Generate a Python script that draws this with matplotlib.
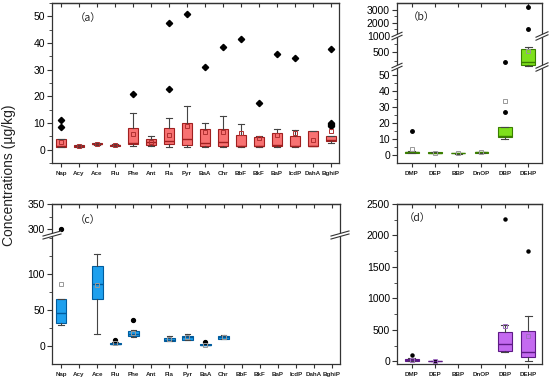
import numpy as np
import matplotlib
matplotlib.use('Agg')
import matplotlib.pyplot as plt
from matplotlib.lines import Line2D
from matplotlib.patches import Polygon
from matplotlib.ticker import AutoMinorLocator

plt.rcParams['font.family'] = ['Liberation Sans', 'DejaVu Sans']

# ---------------- data ----------------
pah_names = ['Nap', 'Acy', 'Ace', 'Flu', 'Phe', 'Ant', 'Fla', 'Pyr', 'BaA', 'Chr',
             'BbF', 'BkF', 'BaP', 'IcdP', 'DahA', 'BghiP']
pae_names = ['DMP', 'DEP', 'BBP', 'DnOP', 'DBP', 'DEHP']

# (a) PAHs, panel a
a_q1 = [1.0, 0.9, 2.0, 1.5, 2.2, 1.6, 2.3, 1.8, 1.3, 1.3, 1.3, 1.3, 1.3, 1.3, 1.3, 3.1]
a_med = [1.5, 1.2, 2.2, 1.7, 2.5, 3.0, 3.2, 4.0, 2.6, 2.7, 1.5, 1.5, 1.6, 1.5, 1.5, 3.8]
a_q3 = [4.0, 1.7, 2.4, 1.8, 8.1, 4.0, 8.1, 10.0, 7.6, 7.6, 5.4, 4.7, 6.2, 5.1, 7.1, 5.0]
a_lo = [1.0, 0.9, 1.9, 1.4, 1.5, 1.2, 1.0, 1.0, 1.0, 1.0, 1.0, 1.0, 1.0, 1.0, 1.3, 2.5]
a_hi = [4.0, 1.8, 2.6, 2.0, 13.6, 5.1, 11.9, 16.5, 10.1, 12.8, 9.5, 5.3, 7.8, 7.3, 7.1, 5.3]
a_mean = [3.0, 1.3, 2.2, 1.7, 5.8, 3.0, 5.6, 8.8, 6.8, 6.7, 6.3, 4.4, 5.6, 6.2, 3.5, 6.9]
a_fliers = [[8.6, 11.0], [], [], [], [20.9], [], [22.7, 47.5], [50.9], [30.9], [38.5],
            [41.6], [17.4], [36.0], [34.4], [], [8.8, 9.2, 9.6, 10.0, 37.9]]

# (b) PAEs, panel b
b_q1 = [1.2, 1.3, 1.0, 1.4, 11.5, 107]
b_med = [1.6, 1.5, 1.2, 1.6, 12.0, 217]
b_q3 = [2.0, 1.7, 1.4, 1.8, 17.6, 595]
b_lo = [1.0, 1.2, 0.9, 1.3, 10.3, 95]
b_hi = [2.2, 1.8, 1.5, 1.9, 17.6, 655]
b_mean = [3.6, 1.5, 1.2, 1.6, 33.9, 543]
b_fliers = [[15.0], [], [], [], [27.0, 207], [1500, 3220]]

# (c) PAHs, panel c (None = not detected)
c_q1 = [31.5, None, 66.0, 2.8, 14.0, None, 7.4, 8.5, 1.4, 9.7, None, None, None, None, None, None]
c_med = [45.4, None, 87.0, 3.5, 17.0, None, 9.0, 12.0, 2.0, 12.0, None, None, None, None, None, None]
c_q3 = [66.0, None, 111.6, 4.6, 21.3, None, 11.6, 14.0, 2.3, 14.4, None, None, None, None, None, None]
c_lo = [30.0, None, 16.7, 2.5, 13.0, None, 7.0, 8.0, 1.2, 9.5, None, None, None, None, None, None]
c_hi = [66.0, None, 128.7, 5.0, 22.0, None, 14.4, 16.2, 2.5, 15.7, None, None, None, None, None, None]
c_mean = [86.6, None, 84.7, 4.0, 18.0, None, 9.5, 12.0, 2.0, 13.0, None, None, None, None, None, None]
c_fliers = [[300.0], [], [], [8.8], [36.6], [], [], [], [6.0], [], [], [], [], [], [], []]

# (d) PAEs, panel d
d_q1 = [15, 2, None, None, 159, 69]
d_med = [25, 5, None, None, 281, 148]
d_q3 = [45, 8, None, None, 461, 477]
d_lo = [10, 0, None, None, 148, 5]
d_hi = [55, 10, None, None, 583, 725]
d_mean = [30, 6, None, None, 556, 397]
d_fliers = [[95], [10], [], [], [2256], [1758]]

# ---------------- figure ----------------
W, H = 550, 382
fig = plt.figure(figsize=(W / 100, H / 100), dpi=100)


def px_axes(x0, y0, x1, y1):
    return fig.add_axes([x0 / W, 1 - y1 / H, (x1 - x0) / W, (y1 - y0) / H])


def pw_scale(ax, data_pts, frac_pts):
    dp = np.asarray(data_pts, float)
    fp = np.asarray(frac_pts, float)
    s0 = (fp[1] - fp[0]) / (dp[1] - dp[0])
    s1 = (fp[-1] - fp[-2]) / (dp[-1] - dp[-2])
    big = 1e6
    dpe = np.concatenate([[dp[0] - big], dp, [dp[-1] + big]])
    fpe = np.concatenate([[fp[0] - big * s0], fp, [fp[-1] + big * s1]])

    def fwd(v):
        return np.interp(np.asarray(v, float), dpe, fpe)

    def inv(v):
        return np.interp(np.asarray(v, float), fpe, dpe)
    ax.set_yscale('function', functions=(fwd, inv))


def make_stats(q1, med, q3, lo, hi, mean, fliers):
    stats, pos = [], []
    for i in range(len(q1)):
        if q1[i] is None:
            continue
        stats.append(dict(q1=q1[i], med=med[i], q3=q3[i], whislo=lo[i], whishi=hi[i],
                          mean=mean[i], fliers=fliers[i], label=''))
        pos.append(i + 1)
    return stats, pos


def draw_boxes(ax, stats, pos, fc, ec, mc, fmarker, fsize, width=0.6):
    ax.bxp(stats, positions=pos, widths=width, patch_artist=True, showmeans=True,
           manage_ticks=False, capwidths=0.3,
           boxprops=dict(facecolor=fc, edgecolor=ec, linewidth=0.8),
           medianprops=dict(color=ec, linewidth=1.0),
           whiskerprops=dict(color='#444444', linewidth=0.8),
           capprops=dict(color='#444444', linewidth=0.8),
           flierprops=dict(marker=fmarker, markerfacecolor='k', markeredgecolor='k',
                           markersize=fsize, linestyle='none'),
           meanprops=dict(marker='s', markerfacecolor='none', markeredgecolor=mc,
                          markersize=3.5, markeredgewidth=0.7))


def style(ax, labels, xlim):
    n = len(labels)
    positions = list(range(1, n + 1))
    ax.set_xlim(*xlim)
    ax.set_xticks(positions)
    ax.set_xticklabels(labels, fontsize=4.5, fontweight='bold', color='#222222')
    ax.tick_params(axis='x', direction='out', length=3, width=0.8, pad=3, color='#333333')
    ax.tick_params(axis='y', which='major', direction='out', length=3.5, width=0.8,
                   labelsize=7.5, pad=1.5, color='#333333')
    ax.tick_params(axis='y', which='minor', direction='out', length=2, width=0.6, color='#333333')
    for s in ax.spines.values():
        s.set_linewidth(0.9)
        s.set_color('#333333')
    sec = ax.secondary_xaxis('top')
    sec.set_xticks(positions)
    sec.tick_params(direction='in', length=3, width=0.8, labeltop=False, color='#333333')
    sec.spines['top'].set_linewidth(0.9)
    sec.spines['top'].set_color('#333333')


def break_mark(ax, yval, side, half=6, slope=0.4, gap=3):
    x_ax = 0 if side == 'left' else 1
    xd = ax.transAxes.transform((x_ax, 0))[0]
    yd = ax.transData.transform((1, yval))[1]
    inv = fig.transFigure.inverted()
    pts = [(xd - half, yd - gap / 2 - half * slope), (xd + half, yd - gap / 2 + half * slope),
           (xd + half, yd + gap / 2 + half * slope), (xd - half, yd + gap / 2 - half * slope)]
    fig.add_artist(Polygon(inv.transform(pts), closed=True, facecolor='white',
                           edgecolor='none', transform=fig.transFigure, zorder=5))
    for off in (-gap / 2, gap / 2):
        p = inv.transform([(xd - half, yd + off - half * slope), (xd + half, yd + off + half * slope)])
        fig.add_artist(Line2D(p[:, 0], p[:, 1], color='#333333', lw=0.8,
                              transform=fig.transFigure, zorder=6))


def panel_label(ax, txt, x, y):
    ax.text(x, y, txt, transform=ax.transAxes, ha='center', va='center', fontsize=7.5,
            family=['Noto Sans CJK SC', 'DejaVu Sans'], color='#222222')


# ---- panel (a)
axa = px_axes(52, 3, 339, 163)
st, pos = make_stats(a_q1, a_med, a_q3, a_lo, a_hi, a_mean, a_fliers)
draw_boxes(axa, st, pos, '#F87272', '#A02020', '#B03030', 'D', 3.2)
axa.set_ylim(-5, 55)
axa.set_yticks([0, 10, 20, 30, 40, 50])
axa.yaxis.set_minor_locator(AutoMinorLocator(2))
style(axa, pah_names, (0.5, 16.45))
panel_label(axa, '（a）', 0.125, 0.905)

# ---- panel (b)
axb = px_axes(397, 3, 542, 163)
pw_scale(axb, [-5, 55, 1000, 3500], [0, 96, 127, 160])
st, pos = make_stats(b_q1, b_med, b_q3, b_lo, b_hi, b_mean, b_fliers)
draw_boxes(axb, st, pos, '#7EE01C', '#3A7F00', '#999999', 'o', 2.5)
axb.set_ylim(-5, 3500)
b_ticks = [0, 10, 20, 30, 40, 50, 500, 1000, 2000, 3000]
axb.set_yticks(b_ticks, labels=[str(t) for t in b_ticks])
axb.set_yticks([5, 15, 25, 35, 45, 250, 750, 1500, 2500], minor=True)
style(axb, pae_names, (0.37, 6.6))
panel_label(axb, '（b）', 0.17, 0.91)

# ---- panel (c)
axc = px_axes(52, 204, 340, 364)
pw_scale(axc, [-25, 154, 289, 350], [0, 128.5, 129.5, 160])
st, pos = make_stats(c_q1, c_med, c_q3, c_lo, c_hi, c_mean, c_fliers)
draw_boxes(axc, st, pos, '#1EA0EE', '#005C9E', '#999999', 'o', 2.8)
axc.set_ylim(-25, 350)
c_ticks = [0, 50, 100, 300, 350]
axc.set_yticks(c_ticks, labels=[str(t) for t in c_ticks])
axc.set_yticks([25, 75, 125, 150, 325], minor=True)
style(axc, pah_names, (0.5, 16.45))
panel_label(axc, '（c）', 0.125, 0.9)

# ---- panel (d)
axd = px_axes(397, 204, 542, 364)
st, pos = make_stats(d_q1, d_med, d_q3, d_lo, d_hi, d_mean, d_fliers)
draw_boxes(axd, st, pos, '#C46AF0', '#5E1A86', '#A070C0', 'o', 2.2)
axd.set_ylim(-40, 2500)
axd.set_yticks([0, 500, 1000, 1500, 2000, 2500])
axd.yaxis.set_minor_locator(AutoMinorLocator(2))
style(axd, pae_names, (0.37, 6.6))
panel_label(axd, '（d）', 0.14, 0.91)

# break marks
for v in (55, 1000):
    break_mark(axb, v, 'left', half=5, slope=0.45)
    break_mark(axb, v, 'right', half=6, slope=0.45)
break_mark(axc, 220, 'left', half=9, slope=0.28)
break_mark(axc, 220, 'right', half=9, slope=0.28)

fig.text(9 / W, 1 - 175 / H, 'Concentrations (µg/kg)', rotation=90, ha='center', va='center',
         fontsize=10, color='#222222')

fig.savefig('out.png', dpi=100)
